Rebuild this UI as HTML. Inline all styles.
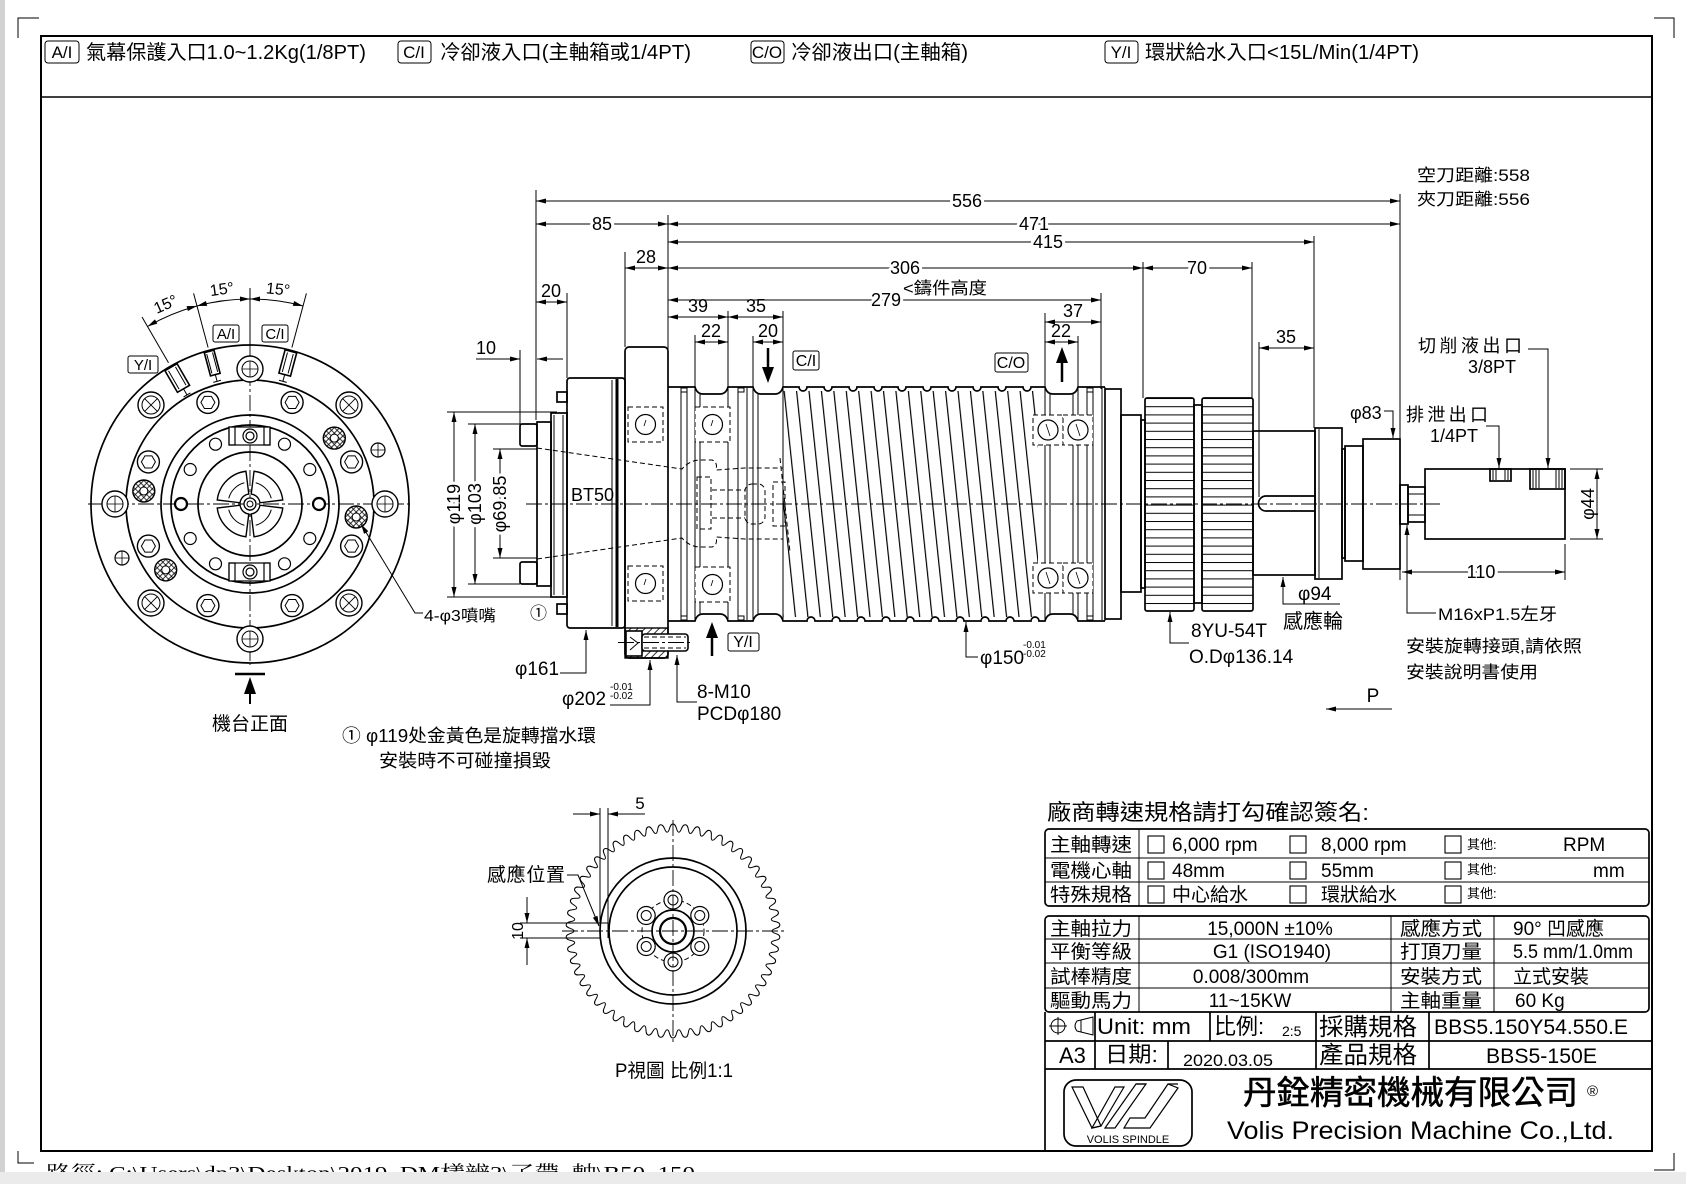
<!DOCTYPE html>
<html><head><meta charset="utf-8">
<style>
html,body{margin:0;padding:0;background:#fff;}
svg{display:block;}
text{font-family:"Liberation Sans","Noto Sans CJK TC",sans-serif;fill:#000;}
.o{fill:none;stroke:#000;stroke-width:1.7;}
.of{fill:#fff;stroke:#000;stroke-width:1.6;}
.t{fill:none;stroke:#000;stroke-width:1;}
.d{fill:none;stroke:#000;stroke-width:1;stroke-dasharray:5 3;}
.c{fill:none;stroke:#000;stroke-width:0.9;stroke-dasharray:16 3 3 3;}
.dim{fill:none;stroke:#000;stroke-width:1;marker-start:url(#ar);marker-end:url(#ar);}
.le{fill:none;stroke:#000;stroke-width:1;marker-end:url(#ar);}
.h{paint-order:stroke;stroke:#fff;stroke-width:6px;stroke-linejoin:round;}
</style></head><body>
<svg width="1686" height="1184" viewBox="0 0 1686 1184" xmlns="http://www.w3.org/2000/svg">
<defs>
<marker id="ar" viewBox="0 0 12 6" refX="12" refY="3" markerWidth="11" markerHeight="5" markerUnits="userSpaceOnUse" orient="auto-start-reverse"><path d="M0,0L12,3L0,6z" fill="#000"/></marker>
<pattern id="th" x="783" y="0" width="12.35" height="40" patternUnits="userSpaceOnUse" patternTransform="rotate(-6 783 504)"><line x1="0.6" y1="0" x2="0.6" y2="40" stroke="#000" stroke-width="1.2"/></pattern>
<pattern id="hs" x="0" y="398" width="10" height="8.2" patternUnits="userSpaceOnUse"><line x1="0" y1="0.5" x2="10" y2="0.5" stroke="#000" stroke-width="1"/></pattern>
<pattern id="hat" width="5" height="5" patternUnits="userSpaceOnUse" patternTransform="rotate(45)"><line x1="0.5" y1="0" x2="0.5" y2="5" stroke="#000" stroke-width="0.8"/></pattern>
<pattern id="xh" width="4" height="4" patternUnits="userSpaceOnUse" patternTransform="rotate(45)"><path d="M0,0.5H4M0.5,0V4" stroke="#000" stroke-width="0.8"/></pattern>
<g id="hexb"><circle r="11" fill="#fff" stroke="#000" stroke-width="1.4"/><polygon points="7,0 3.5,6.06 -3.5,6.06 -7,0 -3.5,-6.06 3.5,-6.06" fill="none" stroke="#000" stroke-width="1"/></g>
<g id="plusb"><circle r="13" fill="#fff" stroke="#000" stroke-width="1.4"/><circle r="8" fill="none" stroke="#000" stroke-width="1"/><path d="M-8,0H8M0,-8V8" stroke="#000" stroke-width="0.8"/></g>
<g id="xb"><circle r="13" fill="#fff" stroke="#000" stroke-width="1.4"/><circle r="9" fill="none" stroke="#000" stroke-width="1"/><path d="M-6.4,-6.4L6.4,6.4M-6.4,6.4L6.4,-6.4" stroke="#000" stroke-width="0.9"/></g>
<g id="noz"><circle r="11" fill="url(#xh)" stroke="#000" stroke-width="1.4"/><circle r="4" fill="#fff" stroke="#000" stroke-width="1"/></g>
<g id="smx"><circle r="7" fill="#fff" stroke="#000" stroke-width="1.2"/><path d="M-7,0H7M0,-7V7" stroke="#000" stroke-width="0.8"/></g>
<g id="lobe"><path d="M4.02,-32.75A33,33 0 0 1 32.75,-4.02L9.93,-1.22A10,10 0 0 0 1.22,-9.93Z" fill="#fff" stroke="#000" stroke-width="1.4"/><path d="M5.69,-21.25A22,22 0 0 1 21.25,-5.69" fill="none" stroke="#000" stroke-width="1"/></g>
<path id="tooth" d="M-5.75,-98.8C-3,-99 -4,-107 0,-107C4,-107 3,-99 5.75,-98.8" fill="none" stroke="#000" stroke-width="1"/>
<g id="b35"><rect x="0" y="0" width="35" height="35" fill="#fff" stroke="#000" stroke-width="1" stroke-dasharray="5 3"/><circle cx="17.5" cy="17.5" r="10" fill="none" stroke="#000" stroke-width="1.2"/><line x1="18" y1="13" x2="16" y2="19" stroke="#000" stroke-width="0.8"/></g>
<g id="b30"><rect x="0" y="0" width="30" height="30" fill="#fff" stroke="#000" stroke-width="1" stroke-dasharray="5 3"/><circle cx="15" cy="15" r="10" fill="none" stroke="#000" stroke-width="1.2"/><line x1="13" y1="9" x2="17" y2="21" stroke="#000" stroke-width="0.8"/></g>
<g id="ph"><circle r="9" fill="#fff" stroke="#000" stroke-width="1.2"/><circle r="5" fill="none" stroke="#000" stroke-width="1"/></g>
</defs>

<rect x="0" y="0" width="5" height="1184" fill="#d2d2d2"/>
<path class="t" d="M18,38V18H39 M1654,18H1674V38 M1654,1170H1674V1153 M18,1151V1163H34" stroke-width="1.3"/>
<rect x="41" y="36" width="1611" height="1115" fill="none" stroke="#000" stroke-width="2"/>
<line x1="41" y1="97" x2="1652" y2="97" stroke="#000" stroke-width="1.5"/>

<!-- header -->
<rect x="45" y="41" width="34" height="22" rx="3" class="t" stroke-width="1.3"/>
<text x="62" y="58" font-size="17" text-anchor="middle">A/I</text>
<text x="86" y="59" font-size="20" textLength="280" lengthAdjust="spacingAndGlyphs">氣幕保護入口1.0~1.2Kg(1/8PT)</text>
<rect x="398" y="41" width="33" height="22" rx="3" class="t" stroke-width="1.3"/>
<text x="414" y="58" font-size="17" text-anchor="middle">C/I</text>
<text x="440" y="59" font-size="20" textLength="251" lengthAdjust="spacingAndGlyphs">冷卻液入口(主軸箱或1/4PT)</text>
<rect x="751" y="41" width="33" height="22" rx="3" class="t" stroke-width="1.3"/>
<text x="767" y="58" font-size="17" text-anchor="middle">C/O</text>
<text x="791" y="59" font-size="20" textLength="177" lengthAdjust="spacingAndGlyphs">冷卻液出口(主軸箱)</text>
<rect x="1105" y="41" width="33" height="22" rx="3" class="t" stroke-width="1.3"/>
<text x="1121" y="58" font-size="17" text-anchor="middle">Y/I</text>
<text x="1145" y="59" font-size="20" textLength="274" lengthAdjust="spacingAndGlyphs">環狀給水入口&lt;15L/Min(1/4PT)</text>

<!-- LEFT END VIEW -->
<g>
<circle cx="250" cy="504" r="159" class="o"/>
<circle cx="250" cy="504" r="124" class="o"/>
<circle cx="250" cy="504" r="89" class="o"/>
<circle cx="250" cy="504" r="79" class="o"/>
<circle cx="250" cy="504" r="52" class="o"/>
<line class="c" x1="88" y1="504" x2="412" y2="504"/>
<line class="c" x1="250" y1="345" x2="250" y2="665"/>
<line class="t" x1="250" y1="288" x2="250" y2="345"/>
<use href="#plusb" x="385" y="504"/><use href="#plusb" x="115" y="504"/><use href="#plusb" x="250" y="369"/><use href="#plusb" x="250" y="639"/>
<use href="#xb" x="349" y="405"/><use href="#xb" x="151" y="405"/><use href="#xb" x="151" y="603"/><use href="#xb" x="349" y="603"/>
<use href="#hexb" x="351.6" y="461.9"/><use href="#hexb" x="351.6" y="546.1"/><use href="#hexb" x="148.4" y="461.9"/><use href="#hexb" x="148.4" y="546.1"/>
<use href="#hexb" x="292.1" y="402.4"/><use href="#hexb" x="207.9" y="402.4"/><use href="#hexb" x="292.1" y="605.6"/><use href="#hexb" x="207.9" y="605.6"/>
<use href="#noz" x="356.2" y="517"/><use href="#noz" x="334.3" y="438.1"/><use href="#noz" x="143.8" y="491"/><use href="#noz" x="165.7" y="569.9"/>
<use href="#smx" x="378" y="450"/><use href="#smx" x="122" y="558"/>
<g fill="#fff" stroke="#000" stroke-width="1.2">
<circle cx="319" cy="504" r="6" stroke-width="2.2"/><circle cx="181" cy="504" r="6" stroke-width="2.2"/>
<circle cx="309.8" cy="469.5" r="6"/><circle cx="284.5" cy="444.2" r="6"/><circle cx="215.5" cy="444.2" r="6"/><circle cx="190.2" cy="469.5" r="6"/>
<circle cx="190.2" cy="538.5" r="6"/><circle cx="215.5" cy="563.8" r="6"/><circle cx="284.5" cy="563.8" r="6"/><circle cx="309.8" cy="538.5" r="6"/>
</g>
<g stroke="#000" stroke-width="1.2">
<rect x="229" y="427" width="41" height="18" fill="#fff"/><rect x="229" y="427" width="6" height="18" fill="none"/><rect x="264" y="427" width="6" height="18" fill="none"/><circle cx="250" cy="436" r="7" fill="none"/><circle cx="250" cy="436" r="4" fill="none"/>
<rect x="229" y="563" width="41" height="18" fill="#fff"/><rect x="229" y="563" width="6" height="18" fill="none"/><rect x="264" y="563" width="6" height="18" fill="none"/><circle cx="250" cy="572" r="7" fill="none"/><circle cx="250" cy="572" r="4" fill="none"/>
</g>
<g transform="translate(250,504)">
<use href="#lobe"/><use href="#lobe" transform="rotate(90)"/><use href="#lobe" transform="rotate(180)"/><use href="#lobe" transform="rotate(270)"/>
<circle r="6" fill="#fff" stroke="#000" stroke-width="1.3"/><circle r="3" fill="none" stroke="#000" stroke-width="1"/>
</g>
<path class="t" d="M168.5,362.8L142,317 M208.1,347.5L193.6,293.4 M291.9,347.5L306.4,293.4"/>
<path class="dim" d="M147.5,326.5A205,205 0 0 1 196.9,306"/>
<path class="dim" d="M196.9,306A205,205 0 0 1 250,299"/>
<path class="dim" d="M250,299A205,205 0 0 1 303.1,306"/>
<text x="166" y="305" font-size="16" text-anchor="middle" dominant-baseline="central" transform="rotate(-24 166 305)">15°</text>
<text x="222" y="290" font-size="16" text-anchor="middle" dominant-baseline="central" transform="rotate(-8 222 290)">15°</text>
<text x="278" y="290" font-size="16" text-anchor="middle" dominant-baseline="central" transform="rotate(6 278 290)">15°</text>
<g transform="rotate(-30 250 504)"><rect x="243" y="346" width="14" height="25" class="of" stroke-width="1.2"/><path class="t" d="M246,348V369M254,348V369M250,371V378M246,378H254"/></g>
<g transform="rotate(-15 250 504)"><rect x="245" y="346" width="10" height="24" class="of" stroke-width="1.2"/><path class="t" d="M247,348V368M253,348V368M250,370V377M246,377H254"/></g>
<g transform="rotate(15 250 504)"><rect x="244" y="346" width="12" height="24" class="of" stroke-width="1.2"/><path class="t" d="M247,348V368M253,348V368M250,370V377M246,377H254"/></g>
<rect x="128" y="356" width="30" height="17" rx="2" class="t" stroke-width="1.2"/><text x="143" y="370" font-size="15" text-anchor="middle">Y/I</text>
<rect x="213" y="325" width="26" height="17" rx="2" class="t" stroke-width="1.2"/><text x="226" y="339" font-size="15" text-anchor="middle">A/I</text>
<rect x="262" y="325" width="26" height="17" rx="2" class="t" stroke-width="1.2"/><text x="275" y="339" font-size="15" text-anchor="middle">C/I</text>
<line x1="235" y1="674" x2="265" y2="674" stroke="#000" stroke-width="2.5"/>
<polygon points="250,677 244,694 256,694" fill="#000"/><line x1="250" y1="692" x2="250" y2="704" stroke="#000" stroke-width="2"/>
<text x="250" y="730" font-size="19" text-anchor="middle">機台正面</text>
<path class="le" d="M423,613H415L361,524"/>
<text x="424" y="621" font-size="16" textLength="72" lengthAdjust="spacingAndGlyphs">4-φ3噴嘴</text>
<text x="342" y="742" font-size="18" textLength="254" lengthAdjust="spacingAndGlyphs">① φ119处金黃色是旋轉擋水環</text>
<text x="379" y="767" font-size="18" textLength="172" lengthAdjust="spacingAndGlyphs">安裝時不可碰撞損毀</text>
</g>

<!-- MAIN SIDE VIEW -->
<g>
<line class="dim" x1="536" y1="201" x2="1400" y2="201"/><text x="967" y="207" class="h" font-size="18" text-anchor="middle">556</text>
<line class="dim" x1="536" y1="224" x2="668" y2="224"/><text x="602" y="230" class="h" font-size="18" text-anchor="middle">85</text>
<line class="dim" x1="668" y1="224" x2="1400" y2="224"/><text x="1034" y="230" class="h" font-size="18" text-anchor="middle">471</text>
<line class="dim" x1="668" y1="242" x2="1314" y2="242"/><text x="1048" y="248" class="h" font-size="18" text-anchor="middle">415</text>
<line class="dim" x1="625" y1="268" x2="668" y2="268"/><text x="646" y="263" font-size="18" text-anchor="middle">28</text>
<line class="dim" x1="668" y1="268" x2="1143" y2="268"/><text x="905" y="274" class="h" font-size="18" text-anchor="middle">306</text>
<line class="dim" x1="1143" y1="268" x2="1252" y2="268"/><text x="1197" y="274" class="h" font-size="18" text-anchor="middle">70</text>
<line class="dim" x1="668" y1="300" x2="1101" y2="300"/><text x="886" y="306" class="h" font-size="18" text-anchor="middle">279</text>
<text x="903" y="294" font-size="17" textLength="84" lengthAdjust="spacingAndGlyphs">&lt;鑄件高度</text>
<line class="dim" x1="668" y1="317" x2="728" y2="317"/><text x="698" y="312" font-size="18" text-anchor="middle">39</text>
<line class="dim" x1="728" y1="317" x2="783" y2="317"/><text x="756" y="312" font-size="18" text-anchor="middle">35</text>
<line class="dim" x1="1045" y1="322" x2="1101" y2="322"/><text x="1073" y="317" font-size="18" text-anchor="middle">37</text>
<line class="dim" x1="695" y1="342" x2="728" y2="342"/><text x="711" y="337" font-size="18" text-anchor="middle">22</text>
<line class="dim" x1="753" y1="342" x2="783" y2="342"/><text x="768" y="337" font-size="18" text-anchor="middle">20</text>
<line class="dim" x1="1045" y1="342" x2="1078" y2="342"/><text x="1061" y="337" font-size="18" text-anchor="middle">22</text>
<line class="dim" x1="1259" y1="348" x2="1314" y2="348"/><text x="1286" y="343" font-size="18" text-anchor="middle">35</text>
<line class="dim" x1="536" y1="302" x2="567" y2="302"/><text x="551" y="297" font-size="18" text-anchor="middle">20</text>
<path class="le" d="M476,359H520"/><path class="le" d="M563,359H537"/><text x="486" y="354" font-size="18" text-anchor="middle">10</text>
<path class="t" d="M536,190V420 M668,215V387 M625,252V347 M567,293V378 M520,350V424 M1400,194V580 M1314,236V428 M1143,262V398 M1252,262V398 M1101,293V389 M1045,313V387 M1078,336V387 M1259,342V497 M695,335V387 M728,311V387 M753,336V387 M783,311V387"/>
<path class="t" d="M447,412H557 M447,597H563 M468,424H520 M468,584H520 M493,449H537 M493,558H537"/>
<line class="dim" x1="454" y1="412" x2="454" y2="597"/>
<line class="dim" x1="475" y1="424" x2="475" y2="584"/>
<line class="dim" x1="500" y1="449" x2="500" y2="558"/>
<text x="454" y="504" class="h" font-size="18" text-anchor="middle" dominant-baseline="central" transform="rotate(-90 454 504)">φ119</text>
<text x="475" y="504" class="h" font-size="18" text-anchor="middle" dominant-baseline="central" transform="rotate(-90 475 504)">φ103</text>
<text x="500" y="504" class="h" font-size="18" text-anchor="middle" dominant-baseline="central" transform="rotate(-90 500 504)">φ69.85</text>

<rect x="520" y="424" width="17" height="22" rx="2" class="o"/>
<rect x="520" y="562" width="17" height="22" rx="2" class="o"/>
<rect x="537" y="422" width="14" height="164" class="o"/>
<rect x="551" y="413" width="16" height="184" class="o"/>
<path class="t" d="M554,415V595M563,415V595"/>
<rect x="557" y="392" width="10" height="10" class="o"/><rect x="557" y="604" width="10" height="10" class="o"/>
<rect x="567" y="378" width="58" height="250" rx="3" class="o"/>
<line x1="617" y1="379" x2="617" y2="627" stroke="#000" stroke-width="3"/>
<line x1="612" y1="380" x2="612" y2="626" class="t"/>
<text x="571" y="501" font-size="18">BT50</text>
<text x="530" y="619" font-size="17">①</text>
<rect x="625" y="347" width="43" height="311" rx="4" class="o"/>
<rect x="625" y="628" width="43" height="30" fill="url(#hat)" stroke="#000" stroke-width="1.4"/>
<use href="#b35" x="628" y="407"/><use href="#b35" x="628" y="566"/>
<rect x="626" y="631" width="16" height="25" class="of" stroke-width="1.2"/>
<path class="t" d="M630,637L638,643L630,650"/>
<rect x="642" y="634" width="46" height="17" rx="3" class="of" stroke-width="1.2"/>
<path class="d" d="M644,637H686M644,648H686"/>
<line class="c" x1="618" y1="642.5" x2="692" y2="642.5"/>
<rect x="783" y="391" width="255" height="226" fill="url(#th)"/>
<path class="o" d="M668,387H695Q697,394 703,394H720Q726,394 728,387H753Q755,394 761,394H775Q781,394 783,387H799A4,4 0 0 0 807,387H824A4,4 0 0 0 832,387H849A4,4 0 0 0 857,387H874A4,4 0 0 0 882,387H898A4,4 0 0 0 906,387H923A4,4 0 0 0 931,387H948A4,4 0 0 0 956,387H973A4,4 0 0 0 981,387H998A4,4 0 0 0 1006,387H1023A4,4 0 0 0 1031,387H1045Q1047,394 1053,394H1070Q1076,394 1078,387H1105"/>
<path class="o" d="M668,621H695Q697,614 703,614H720Q726,614 728,621H753Q755,614 761,614H775Q781,614 783,621H807A4,4 0 0 1 815,621H832A4,4 0 0 1 840,621H857A4,4 0 0 1 865,621H882A4,4 0 0 1 890,621H906A4,4 0 0 1 914,621H931A4,4 0 0 1 939,621H956A4,4 0 0 1 964,621H981A4,4 0 0 1 989,621H1006A4,4 0 0 1 1014,621H1031A4,4 0 0 1 1039,621H1045Q1047,614 1053,614H1070Q1076,614 1078,621H1105"/>
<path class="t" stroke-width="1.3" d="M668,387V621 M681,388V620 M687,388V620 M695,388V620 M700,394V614 M728,388V620 M738,388V620 M747,388V620 M753,388V620 M758,394V614 M783,388V620 M1045,388V620 M1050,394V614 M1073,394V614 M1078,388V620 M1087,388V620 M1093,388V620 M1102,388V620 M1105,387V621"/>
<g fill="#fff" stroke="#000" stroke-width="1"><rect x="681" y="388" width="6" height="4"/><rect x="738" y="388" width="6" height="4"/><rect x="681" y="616" width="6" height="4"/><rect x="738" y="616" width="6" height="4"/><rect x="1087" y="388" width="6" height="4"/><rect x="1087" y="616" width="6" height="4"/></g>
<use href="#b35" x="695" y="407"/><use href="#b35" x="695" y="567"/>
<use href="#b30" x="1033" y="415"/><use href="#b30" x="1063" y="415"/><use href="#b30" x="1033" y="563"/><use href="#b30" x="1063" y="563"/>
<path class="d" d="M537,448L682,469Q690,460 700,460H712Q718,462 716,470L745,468H783 M537,559L682,538Q690,547 700,547H712Q718,545 716,537L745,539H783 M712,490H745M712,518H745 M780,458L790,552"/>
<rect x="697" y="477" width="14" height="52" class="d"/>
<rect x="745" y="484" width="20" height="40" rx="7" class="d"/>
<rect x="773" y="482" width="12" height="44" class="d"/>
<rect x="1105" y="389" width="16" height="230" class="o"/>
<rect x="1121" y="415" width="20" height="177" class="o"/>
<rect x="1141" y="420" width="4" height="168" class="o"/>
<rect x="1145" y="398" width="49" height="213" rx="2" fill="url(#hs)" stroke="#000" stroke-width="1.7"/>
<rect x="1194" y="405" width="8" height="198" class="o"/>
<rect x="1202" y="398" width="51" height="213" rx="2" fill="url(#hs)" stroke="#000" stroke-width="1.7"/>
<rect x="1253" y="431" width="62" height="144" class="o"/>
<path class="o" d="M1315,496H1266A7.5,7.5 0 0 0 1266,511H1315"/>
<rect x="1315" y="428" width="27" height="151" class="o"/><line class="t" x1="1319" y1="429" x2="1319" y2="578"/>
<rect x="1342" y="449" width="3" height="109" class="o"/>
<rect x="1345" y="446" width="18" height="115" class="o"/>
<rect x="1363" y="439" width="37" height="130" class="o"/>
<rect x="1400" y="485" width="8" height="39" class="o"/>
<rect x="1408" y="487" width="17" height="35" class="o"/><path class="t" d="M1408,494H1425M1408,515H1425"/>
<rect x="1425" y="469" width="140" height="70" class="o"/>
<rect x="1490" y="469" width="21" height="12" class="o"/><path class="t" d="M1493,470V480M1496,470V480M1505,470V480M1508,470V480"/>
<rect x="1530" y="469" width="35" height="20" class="o"/><path class="t" d="M1533,470V488M1536,470V488M1539,470V488M1556,470V488M1559,470V488M1562,470V488"/>
<line class="c" x1="526" y1="504" x2="1440" y2="504"/>
<path class="t" d="M1570,469H1603M1570,539H1603 M1565,544V580"/>
<line class="dim" x1="1597" y1="469" x2="1597" y2="539"/>
<text x="1594" y="504" font-size="18" text-anchor="middle" transform="rotate(-90 1594 504)">φ44</text>
<line class="dim" x1="1402" y1="572" x2="1565" y2="572"/><text x="1481" y="578" class="h" font-size="18" text-anchor="middle">110</text>
<line x1="768" y1="348" x2="768" y2="370" stroke="#000" stroke-width="2.5"/><polygon points="768,383 762,367 774,367" fill="#000"/>
<rect x="793" y="351" width="26" height="19" rx="2" class="t" stroke-width="1.2"/><text x="806" y="366" font-size="16" text-anchor="middle">C/I</text>
<line x1="1062" y1="360" x2="1062" y2="382" stroke="#000" stroke-width="2.5"/><polygon points="1062,347 1056,363 1068,363" fill="#000"/>
<rect x="995" y="353" width="33" height="19" rx="2" class="t" stroke-width="1.2"/><text x="1011" y="368" font-size="16" text-anchor="middle">C/O</text>
<line x1="712" y1="635" x2="712" y2="656" stroke="#000" stroke-width="2.5"/><polygon points="712,622 706,638 718,638" fill="#000"/>
<rect x="728" y="633" width="31" height="18" rx="2" class="t" stroke-width="1.2"/><text x="743" y="647" font-size="16" text-anchor="middle">Y/I</text>
<path class="le" d="M560,673H586V630"/><text x="515" y="675" font-size="19">φ161</text>
<path class="le" d="M610,705H650V660"/><text x="562" y="705" font-size="19">φ202</text>
<text x="610" y="690" font-size="10">-0.01</text><text x="610" y="699" font-size="10">-0.02</text>
<path class="le" d="M697,702H677V655"/><text x="697" y="698" font-size="19">8-M10</text><text x="697" y="720" font-size="19">PCDφ180</text>
<path class="le" d="M978,657H966V622"/><text x="980" y="664" font-size="19">φ150</text>
<text x="1023" y="648" font-size="10">-0.01</text><text x="1023" y="657" font-size="10">-0.02</text>
<path class="le" d="M1189,643H1170V612"/><text x="1191" y="637" font-size="19">8YU-54T</text><text x="1189" y="663" font-size="19">O.Dφ136.14</text>
<path class="le" d="M1340,604H1283V577"/><text x="1298" y="600" font-size="19">φ94</text><text x="1283" y="628" font-size="20">感應輪</text>
<path class="le" d="M1436,613H1407V525"/><text x="1438" y="620" font-size="17" textLength="119" lengthAdjust="spacingAndGlyphs">M16xP1.5左牙</text>
<text x="1406" y="652" font-size="17" textLength="176" lengthAdjust="spacingAndGlyphs">安裝旋轉接頭,請依照</text>
<text x="1406" y="678" font-size="17" textLength="132" lengthAdjust="spacingAndGlyphs">安裝說明書使用</text>
<line class="t" x1="1326" y1="709" x2="1392" y2="709" style="marker-start:url(#ar)"/><text x="1373" y="702" font-size="19" text-anchor="middle">P</text>
<path class="le" d="M1384,411H1393V438"/><text x="1350" y="419" font-size="18">φ83</text>
<path class="le" d="M1486,426H1499V468"/><text x="1406" y="421" font-size="18" textLength="82" lengthAdjust="spacing">排泄出口</text><text x="1430" y="442" font-size="18">1/4PT</text>
<path class="le" d="M1528,349H1548V468"/><text x="1418" y="352" font-size="18" textLength="104" lengthAdjust="spacing">切削液出口</text><text x="1468" y="373" font-size="18">3/8PT</text>
<text x="1417" y="181" font-size="17" textLength="113" lengthAdjust="spacingAndGlyphs">空刀距離:558</text>
<text x="1417" y="205" font-size="17" textLength="113" lengthAdjust="spacingAndGlyphs">夾刀距離:556</text>
</g>

<!-- P VIEW -->
<g>
<g transform="translate(673,931)">
<use href="#tooth" transform="rotate(0)"/><use href="#tooth" transform="rotate(6.667)"/><use href="#tooth" transform="rotate(13.333)"/><use href="#tooth" transform="rotate(20)"/><use href="#tooth" transform="rotate(26.667)"/><use href="#tooth" transform="rotate(33.333)"/><use href="#tooth" transform="rotate(40)"/><use href="#tooth" transform="rotate(46.667)"/><use href="#tooth" transform="rotate(53.333)"/>
<use href="#tooth" transform="rotate(60)"/><use href="#tooth" transform="rotate(66.667)"/><use href="#tooth" transform="rotate(73.333)"/><use href="#tooth" transform="rotate(80)"/><use href="#tooth" transform="rotate(86.667)"/><use href="#tooth" transform="rotate(93.333)"/><use href="#tooth" transform="rotate(100)"/><use href="#tooth" transform="rotate(106.667)"/><use href="#tooth" transform="rotate(113.333)"/>
<use href="#tooth" transform="rotate(120)"/><use href="#tooth" transform="rotate(126.667)"/><use href="#tooth" transform="rotate(133.333)"/><use href="#tooth" transform="rotate(140)"/><use href="#tooth" transform="rotate(146.667)"/><use href="#tooth" transform="rotate(153.333)"/><use href="#tooth" transform="rotate(160)"/><use href="#tooth" transform="rotate(166.667)"/><use href="#tooth" transform="rotate(173.333)"/>
<use href="#tooth" transform="rotate(180)"/><use href="#tooth" transform="rotate(186.667)"/><use href="#tooth" transform="rotate(193.333)"/><use href="#tooth" transform="rotate(200)"/><use href="#tooth" transform="rotate(206.667)"/><use href="#tooth" transform="rotate(213.333)"/><use href="#tooth" transform="rotate(220)"/><use href="#tooth" transform="rotate(226.667)"/><use href="#tooth" transform="rotate(233.333)"/>
<use href="#tooth" transform="rotate(240)"/><use href="#tooth" transform="rotate(246.667)"/><use href="#tooth" transform="rotate(253.333)"/><use href="#tooth" transform="rotate(260)"/><use href="#tooth" transform="rotate(266.667)"/><use href="#tooth" transform="rotate(273.333)"/><use href="#tooth" transform="rotate(280)"/><use href="#tooth" transform="rotate(286.667)"/><use href="#tooth" transform="rotate(293.333)"/>
<use href="#tooth" transform="rotate(300)"/><use href="#tooth" transform="rotate(306.667)"/><use href="#tooth" transform="rotate(313.333)"/><use href="#tooth" transform="rotate(320)"/><use href="#tooth" transform="rotate(326.667)"/><use href="#tooth" transform="rotate(333.333)"/><use href="#tooth" transform="rotate(340)"/><use href="#tooth" transform="rotate(346.667)"/><use href="#tooth" transform="rotate(353.333)"/>
</g>
<circle cx="673" cy="931" r="73" class="o" stroke-width="1.3"/>
<circle cx="673" cy="931" r="64" class="o" stroke-width="1.3"/>
<circle cx="673" cy="931" r="31" class="d"/>
<use href="#ph" x="673" y="900"/><use href="#ph" x="699.8" y="915.5"/><use href="#ph" x="699.8" y="946.5"/><use href="#ph" x="673" y="962"/><use href="#ph" x="646.2" y="946.5"/><use href="#ph" x="646.2" y="915.5"/>
<circle cx="673" cy="931" r="21" class="o" stroke-width="1.3"/>
<circle cx="673" cy="931" r="13" fill="none" stroke="#000" stroke-width="2.2"/>
<line class="c" x1="562" y1="931" x2="787" y2="931"/>
<line class="c" x1="673" y1="820" x2="673" y2="1042"/>
<path class="t" d="M600,808V923 M608,808V938 M520,923H608 M520,938H600"/>
<path class="le" d="M573,814H600"/><path class="le" d="M645,814H608"/><text x="640" y="809" font-size="17" text-anchor="middle">5</text>
<path class="le" d="M527,897V923"/><path class="le" d="M527,965V938"/>
<text x="523" y="931" font-size="16" text-anchor="middle" transform="rotate(-90 523 931)">10</text>
<text x="487" y="881" font-size="19" textLength="78" lengthAdjust="spacing">感應位置</text>
<path class="le" d="M567,875H578L599,926"/>
<text x="615" y="1077" font-size="19" textLength="118" lengthAdjust="spacingAndGlyphs">P視圖 比例1:1</text>
</g>

<!-- TITLE BLOCK / TABLES -->
<g>
<text x="1047" y="820" font-size="22" textLength="322" lengthAdjust="spacingAndGlyphs">廠商轉速規格請打勾確認簽名:</text>
<rect x="1045" y="829" width="604" height="77" rx="4" class="o" stroke-width="1.3"/>
<path class="t" stroke-width="1.2" d="M1045,858H1649M1045,882H1649M1139,829V906"/>
<g font-size="19">
<text x="1050" y="851" textLength="82" lengthAdjust="spacingAndGlyphs">主軸轉速</text>
<text x="1050" y="877" textLength="82" lengthAdjust="spacingAndGlyphs">電機心軸</text>
<text x="1050" y="901" textLength="82" lengthAdjust="spacingAndGlyphs">特殊規格</text>
<text x="1172" y="851">6,000 rpm</text><text x="1321" y="851">8,000 rpm</text><text x="1563" y="851">RPM</text>
<text x="1172" y="877">48mm</text><text x="1321" y="877">55mm</text><text x="1593" y="877">mm</text>
<text x="1172" y="901">中心給水</text><text x="1321" y="901">環狀給水</text>
</g>
<g font-size="13"><text x="1467" y="849">其他:</text><text x="1467" y="874">其他:</text><text x="1467" y="898">其他:</text></g>
<g fill="#fff" stroke="#000" stroke-width="1.1">
<rect x="1148" y="836" width="16" height="17"/><rect x="1290" y="836" width="16" height="17"/><rect x="1445" y="836" width="16" height="17"/>
<rect x="1148" y="862" width="16" height="17"/><rect x="1290" y="862" width="16" height="17"/><rect x="1445" y="862" width="16" height="17"/>
<rect x="1148" y="886" width="16" height="17"/><rect x="1290" y="886" width="16" height="17"/><rect x="1445" y="886" width="16" height="17"/>
</g>
<rect x="1045" y="916" width="604" height="96" rx="4" class="o" stroke-width="1.3"/>
<path class="t" stroke-width="1.2" d="M1045,939H1649M1045,963H1649M1045,988H1649M1139,916V1012M1391,916V1012M1494,916V1012"/>
<g font-size="19">
<text x="1050" y="935" textLength="82" lengthAdjust="spacingAndGlyphs">主軸拉力</text>
<text x="1050" y="958" textLength="82" lengthAdjust="spacingAndGlyphs">平衡等級</text>
<text x="1050" y="983" textLength="82" lengthAdjust="spacingAndGlyphs">試棒精度</text>
<text x="1050" y="1007" textLength="82" lengthAdjust="spacingAndGlyphs">驅動馬力</text>
<text x="1270" y="935" text-anchor="middle">15,000N ±10%</text>
<text x="1272" y="958" text-anchor="middle">G1  (ISO1940)</text>
<text x="1251" y="983" text-anchor="middle">0.008/300mm</text>
<text x="1250" y="1007" text-anchor="middle">11~15KW</text>
<text x="1400" y="935" textLength="82" lengthAdjust="spacingAndGlyphs">感應方式</text>
<text x="1400" y="958" textLength="82" lengthAdjust="spacingAndGlyphs">打頂刀量</text>
<text x="1400" y="983" textLength="82" lengthAdjust="spacingAndGlyphs">安裝方式</text>
<text x="1400" y="1007" textLength="82" lengthAdjust="spacingAndGlyphs">主軸重量</text>
<text x="1513" y="935">90°  凹感應</text>
<text x="1513" y="958" textLength="120" lengthAdjust="spacingAndGlyphs">5.5 mm/1.0mm</text>
<text x="1513" y="983">立式安裝</text>
<text x="1515" y="1007">60 Kg</text>
</g>
<path class="o" stroke-width="1.3" d="M1045,1012V1151 M1045,1041H1652 M1045,1069H1652 M1095,1012V1069 M1210,1012V1041 M1168,1041V1069 M1316,1012V1069 M1429,1012V1069"/>
<circle cx="1058" cy="1026" r="7" class="t" stroke-width="1.2"/><path class="t" d="M1049,1026H1067M1058,1017V1035"/>
<path class="t" stroke-width="1.2" d="M1093,1017L1077,1021Q1073,1026 1077,1031L1093,1035Z M1081,1020V1032"/>
<text x="1097" y="1034" font-size="22" textLength="94" lengthAdjust="spacingAndGlyphs">Unit:  mm</text>
<text x="1214" y="1034" font-size="22">比例:</text><text x="1282" y="1036" font-size="14">2:5</text>
<text x="1319" y="1035" font-size="24" textLength="98" lengthAdjust="spacingAndGlyphs">採購規格</text>
<text x="1434" y="1034" font-size="21" textLength="194" lengthAdjust="spacingAndGlyphs">BBS5.150Y54.550.E</text>
<text x="1059" y="1063" font-size="22">A3</text>
<text x="1105" y="1062" font-size="22" textLength="53" lengthAdjust="spacingAndGlyphs">日期:</text>
<text x="1183" y="1066" font-size="17" textLength="90" lengthAdjust="spacingAndGlyphs">2020.03.05</text>
<text x="1319" y="1063" font-size="24" textLength="98" lengthAdjust="spacingAndGlyphs">產品規格</text>
<text x="1486" y="1063" font-size="21" textLength="111" lengthAdjust="spacingAndGlyphs">BBS5-150E</text>
<rect x="1064" y="1080" width="128" height="66" rx="12" class="o" stroke-width="1.3"/>
<g fill="none" stroke="#000" stroke-width="1.2">
<polygon points="1072,1087 1083,1087 1101,1126 1092,1128"/>
<polygon points="1092,1128 1101,1126 1124,1087 1115,1087"/>
<polygon points="1105,1128 1115,1128 1146,1084 1136,1084"/>
<polygon points="1124,1128 1150,1128 1178,1088 1168,1084 1145,1118 1130,1118"/>
<path d="M1136,1084H1146M1168,1084H1178"/>
</g>
<text x="1128" y="1143" font-size="11" text-anchor="middle">VOLIS SPINDLE</text>
<text x="1243" y="1104" font-size="33" stroke="#000" stroke-width="0.6" textLength="335" lengthAdjust="spacingAndGlyphs">丹銓精密機械有限公司</text>
<text x="1587" y="1096" font-size="15">®</text>
<text x="1227" y="1139" font-size="25" textLength="387" lengthAdjust="spacingAndGlyphs">Volis Precision Machine Co.,Ltd.</text>
</g>

<text x="46" y="1180" font-size="20" style="font-family:'Liberation Serif','Noto Serif CJK SC',serif" textLength="649" lengthAdjust="spacingAndGlyphs">路徑: C:\Users\dp3\Desktop\2019_DM樣辨3\了帶_軸\B50_150</text>
<rect x="0" y="1172" width="1686" height="12" fill="#ebebeb"/>
</svg>
</body></html>
